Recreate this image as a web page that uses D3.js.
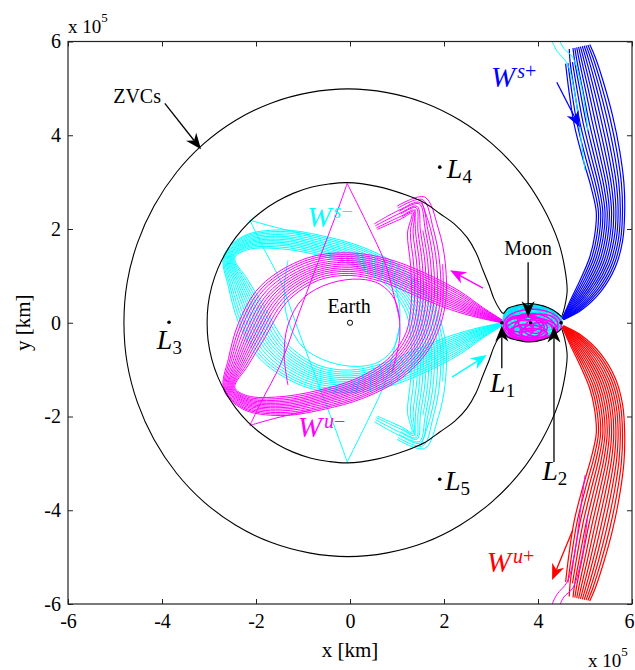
<!DOCTYPE html>
<html><head><meta charset="utf-8">
<script src="https://cdn.jsdelivr.net/npm/d3@7/dist/d3.min.js"></script>
<style>
html,body{margin:0;padding:0;background:#fff;}
svg{display:block;}
text{font-family:"Liberation Serif","Times New Roman",Times,serif;fill:#000;}
</style></head><body>
<svg id="chart" width="635" height="670"></svg>
<script>
// Earth–Moon restricted three-body problem, rotating frame centred on Earth.
// Zero-velocity curves and the invariant-manifold tubes of the L1/L2 Lyapunov orbits.
// All coordinates are in units of 10^5 km.

const xTicks = [-6, -4, -2, 0, 2, 4, 6];
const yTicks = [-6, -4, -2, 0, 2, 4, 6];

// Upper half of the outer zero-velocity curve, from the far side round to the L2 neck
const zvcOuterUpper = [
  [-4.81,0.00],[-4.74,0.87],[-4.52,1.71],[-4.17,2.49],[-3.69,3.21],[-3.11,3.82],
  [-2.43,4.32],[-1.67,4.69],[-0.87,4.91],[-0.04,4.99],[0.79,4.91],[1.59,4.69],
  [2.34,4.32],[3.02,3.82],[3.61,3.21],[4.09,2.49],[4.44,1.71],[4.57,1.16],
  [4.62,0.69],[4.57,0.35],[4.51,0.14]
];

// Upper half of the inner zero-velocity curve: Earth realm, L1 neck, lunar realm up to L2
const zvcInnerUpper = [
  [-3.04,0.00],[-3.02,0.37],[-2.94,0.78],[-2.81,1.16],[-2.64,1.50],[-2.43,1.82],
  [-2.17,2.12],[-1.87,2.38],[-1.55,2.59],[-1.21,2.76],[-0.83,2.89],[-0.45,2.96],
  [-0.06,2.99],[0.57,2.91],[1.21,2.72],[1.60,2.55],[1.91,2.33],[2.23,2.10],
  [2.49,1.82],[2.68,1.50],[2.83,1.12],[2.96,0.80],[3.06,0.52],[3.17,0.31],
  [3.26,0.20],[3.36,0.31],[3.55,0.37],[3.83,0.41],[4.11,0.36],[4.32,0.27],[4.51,0.12]
];

// W^{u-}: centre line of the L1 unstable tube in the Earth realm [x, y, half-width]
const wuMinusSpine = [
  [3.23,0.03,0.03],[2.77,0.22,0.12],[2.23,0.48,0.22],[1.49,0.82,0.26],[0.74,1.12,0.25],
  [0.00,1.25,0.24],[-0.74,1.16,0.26],[-1.38,0.82,0.30],[-1.74,0.47,0.33],[-2.09,-0.16,0.32],
  [-2.38,-0.84,0.22],[-2.57,-1.40,0.12],[-2.23,-1.70,0.15],[-1.49,-1.78,0.20],[-0.64,-1.65,0.21],
  [0.21,-1.40,0.22],[0.96,-0.97,0.25],[1.45,-0.37,0.30],[1.66,0.37,0.36],[1.66,1.23,0.37],
  [1.55,1.97,0.33],[1.45,2.51,0.22],[1.06,2.36,0.14],[0.53,2.08,0.10]
];
// Trajectories in that tube: [offset across tube (-1..1), first node, last node]
const wuMinusTraj = [
  [-1.00,0,23],[-0.82,0,22],[-0.64,0,23],[-0.48,0,21],[-0.32,0,22],[-0.16,0,23],
  [0.00,0,20],[0.16,0,22],[0.32,0,23],[0.50,0,21],[0.68,0,22],[0.84,0,19],[1.00,0,22]
];
// Single W^{u-} strands: one grazing the zero-velocity curve twice (legs between cusps),
// one on a tighter loop round the Earth
const wuMinusStrands = [
  [[1.06,0.05],[0.91,0.69],[0.74,1.29],[0.38,2.08],[-0.06,2.97]],
  [[-0.06,2.97],[-0.28,2.35],[-0.68,1.29],[-1.06,0.27],[-1.49,-0.91],[-1.87,-1.65],[-2.13,-2.19]],
  [[-2.13,-2.19],[-1.60,-2.04],[-0.85,-1.87]],
  [[0.89,-1.06],[1.06,-0.27],[0.96,0.48],[0.64,0.82],[0.21,0.93],[-0.43,0.84],
   [-1.00,0.52],[-1.32,-0.05],[-1.40,-0.69],[-1.32,-1.33]]
];

// W^{s+}: centre line of the L2 stable tube in the exterior realm [x, y, half-width]
const wsPlusSpine = [
  [4.53,0.08,0.02],[4.81,0.37,0.16],[5.13,0.80,0.26],[5.38,1.29,0.30],[5.51,1.80,0.31],
  [5.55,2.36,0.31],[5.49,2.93,0.36],[5.36,3.57,0.41],[5.19,4.32,0.43],[5.04,5.02,0.39],
  [4.91,5.60,0.33],[4.85,5.88,0.27]
];
const wsPlusTraj = [
  [-1.00,0,10],[-0.85,0,10],[-0.70,0,11],[-0.55,0,10],[-0.40,0,11],[-0.25,0,11],
  [-0.10,0,11],[0.05,0,11],[0.20,0,11],[0.35,0,11],[0.50,0,11],[0.65,0,11],
  [0.80,0,11],[0.95,0,11]
];
// W^{s-} strands that pass through the L2 neck into the exterior realm
const wsMinusExterior = [
  [[4.26,6.10],[4.40,5.80],[4.62,5.53],[4.79,4.85],[4.89,4.10],[5.00,3.25]],
  [[4.43,6.10],[4.55,5.85],[4.74,5.66],[4.94,4.96],[5.06,4.10]]
];

// Loops of the manifold strands inside the lunar realm [cx, cy, rx, ry, tilt°]
const lunarLoops = [
  [3.88,0.05,0.62,0.34,0],[3.82,0.12,0.50,0.26,8],[3.95,0.10,0.48,0.28,-10],
  [3.70,0.08,0.38,0.22,15],[4.00,0.18,0.35,0.18,-8],[3.85,0.02,0.30,0.18,25],
  [3.78,0.20,0.40,0.16,0],[3.92,0.04,0.20,0.12,-20],[3.60,0.05,0.30,0.15,5],
  [3.86,0.10,0.56,0.22,4],[3.98,0.06,0.40,0.24,12],[3.74,0.14,0.46,0.20,-6],
  [3.90,0.22,0.30,0.10,3],[3.66,0.18,0.24,0.14,-12]
];

// Libration points, Earth and Moon
const libPoints = [
  {id:"1", x:3.23, y:0}, {id:"2", x:4.49, y:0}, {id:"3", x:-3.85, y:0.01},
  {id:"4", x:1.91, y:3.32}, {id:"5", x:1.91, y:-3.34}
];
const moonPos = [3.84, 0];

// Annotation arrows [x1, y1, x2, y2, colour]
const arrows = [
  [-3.94,4.68,-3.17,3.70,"#000"],
  [3.79,1.29,3.79,0.12,"#000"],
  [3.23,-0.97,3.23,-0.06,"#000"],
  [4.34,-2.97,4.34,-0.08,"#000"],
  [4.40,5.13,4.89,4.17,"#0000ff"],
  [4.74,-4.42,4.30,-5.49,"#ff0000"],
  [2.83,0.74,2.13,1.12,"#ff00ff"],
  [2.17,-1.16,2.91,-0.69,"#00ffff"]
];

// Manifold names: superscript, colour, anchor position
const manifoldLabels = [
  {sup:"s+", color:"#0000ff", x:3.00, y:5.02},
  {sup:"s\u2212", color:"#00ffff", x:-0.91, y:2.04},
  {sup:"u\u2212", color:"#ff00ff", x:-1.11, y:-2.44},
  {sup:"u+", color:"#ff0000", x:2.91, y:-5.32}
];
// Libration point label positions (baseline start of the "L")
const libLabels = [
  {id:"1", x:2.98, y:-1.48}, {id:"2", x:4.09, y:-3.36}, {id:"3", x:-4.11, y:-0.56},
  {id:"4", x:2.06, y:3.08}, {id:"5", x:2.02, y:-3.57}
];
const plainLabels = [
  {t:"ZVCs", x:-4.53, y:4.68}, {t:"Moon", x:3.79, y:1.44}, {t:"Earth", x:-0.02, y:0.20}
];

const svg = d3.select("#chart");
const x = d3.scaleLinear().domain([-6, 6]).range([68, 632]);
const y = d3.scaleLinear().domain([-6, 6]).range([604, 41.5]);

const smooth = d3.line().curve(d3.curveCatmullRom.alpha(0.5));
const mirror = pts => pts.map(p => [p[0], -p[1]]);
const toPx = pts => pts.map(p => [x(p[0]), y(p[1])]);

// Expand a tube centre line into its individual trajectories (sign=-1 gives the mirror branch)
function tubeLines(spine, traj, sign) {
  const P = spine.map(d => [x(d[0]), y(sign * d[1]), x(d[2]) - x(0)]);
  return traj.map(([f, i0, i1]) => d3.range(i0, i1 + 1).map(i => {
    const a = P[Math.max(i - 1, 0)], b = P[Math.min(i + 1, P.length - 1)];
    const dx = b[0] - a[0], dy = b[1] - a[1], L = Math.hypot(dx, dy) || 1;
    const k = sign * f * P[i][2];
    return [P[i][0] - dy / L * k, P[i][1] + dx / L * k];
  }));
}

const defs = svg.append("defs");
defs.append("clipPath").attr("id", "plotClip")
  .append("rect").attr("x", x(-6)).attr("y", y(6))
  .attr("width", x(6) - x(-6)).attr("height", y(-6) - y(6));

const plot = svg.append("g").attr("clip-path", "url(#plotClip)");

// zero-velocity curves (symmetric about the x-axis)
const innerFull = mirror(zvcInnerUpper).reverse().concat(zvcInnerUpper.slice(1));
const outerFull = mirror(zvcOuterUpper).reverse().concat(zvcOuterUpper.slice(1));

// lunar realm: dense loops of the manifold strands, clipped to the realm boundary
const lunarBoundary = zvcInnerUpper.filter(p => p[0] >= 3.26);
const lunarPoly = lunarBoundary.concat(mirror(lunarBoundary).reverse());
const lunarPath = d3.line().curve(d3.curveCatmullRomClosed)(toPx(lunarPoly));
defs.append("clipPath").attr("id", "lunarClip").append("path").attr("d", lunarPath);
const lunar = plot.append("g").attr("clip-path", "url(#lunarClip)");

function drawLoops(sign, color, w) {
  lunar.append("g").selectAll("ellipse").data(lunarLoops).join("ellipse")
    .attr("cx", d => x(d[0])).attr("cy", d => y(sign * d[1]))
    .attr("rx", d => x(d[2]) - x(0)).attr("ry", d => y(0) - y(d[3]))
    .attr("transform", d => `rotate(${-sign * d[4]},${x(d[0])},${y(sign * d[1])})`)
    .attr("fill", "none").attr("stroke", color).attr("stroke-width", w);
}
lunar.append("path").attr("d", lunarPath).attr("fill", "#00ffff").attr("opacity", 0.8);
drawLoops(1, "#00e0ff", 1.2);
drawLoops(-1, "#ff00ff", 1.5);

// W^{s-} (mirror of W^{u-}) then W^{u-}
function drawTube(spine, traj, sign, color, w) {
  plot.append("g").selectAll("path").data(tubeLines(spine, traj, sign)).join("path")
    .attr("d", smooth).attr("fill", "none").attr("stroke", color).attr("stroke-width", w || 1);
}
function drawStrands(strands, sign, color) {
  plot.append("g").selectAll("path").data(strands.map(s => toPx(sign < 0 ? mirror(s) : s))).join("path")
    .attr("d", smooth).attr("fill", "none").attr("stroke", color).attr("stroke-width", 1);
}
drawTube(wuMinusSpine, wuMinusTraj, -1, "#00ffff");
drawStrands(wuMinusStrands, -1, "#00ffff");
drawTube(wuMinusSpine, wuMinusTraj, 1, "#ff00ff");
drawStrands(wuMinusStrands, 1, "#ff00ff");

plot.append("path").attr("d", smooth(toPx(innerFull)))
  .attr("fill", "none").attr("stroke", "#000").attr("stroke-width", 1.1);
plot.append("path").attr("d", smooth(toPx(outerFull)))
  .attr("fill", "none").attr("stroke", "#000").attr("stroke-width", 1.1);

// L2 tubes: W^{s+} above, W^{u+} (its mirror) below
drawTube(wsPlusSpine, wsPlusTraj, 1, "#0000ff", 1.2);
drawTube(wsPlusSpine, wsPlusTraj, -1, "#ff0000", 1.2);
drawStrands(wsMinusExterior, 1, "#00ffff");
drawStrands(wsMinusExterior, -1, "#ff00ff");

// points
plot.selectAll(".lp").data(libPoints).join("circle").attr("class", "lp")
  .attr("cx", d => x(d.x)).attr("cy", d => y(d.y)).attr("r", 1.8).attr("fill", "#000");
plot.append("circle").attr("cx", x(moonPos[0])).attr("cy", y(moonPos[1])).attr("r", 1.6).attr("fill", "#000");
plot.append("circle").attr("cx", x(0)).attr("cy", y(0)).attr("r", 2.6)
  .attr("fill", "#fff").attr("stroke", "#000").attr("stroke-width", 1);

// arrows with stealth heads
function arrow(d) {
  const [x1, y1, x2, y2, c] = d;
  const X1 = x(x1), Y1 = y(y1), X2 = x(x2), Y2 = y(y2);
  const L = Math.hypot(X2 - X1, Y2 - Y1), ux = (X2 - X1) / L, uy = (Y2 - Y1) / L;
  const len = 16, hw = 6.5;
  const bx = X2 - ux * len, by = Y2 - uy * len;
  const nx = X2 - ux * len * 0.7, ny = Y2 - uy * len * 0.7;
  const g = svg.append("g");
  g.append("line").attr("x1", X1).attr("y1", Y1).attr("x2", nx).attr("y2", ny)
    .attr("stroke", c).attr("stroke-width", 1.3);
  g.append("path").attr("d",
    `M${X2},${Y2}L${bx - uy * hw},${by + ux * hw}L${nx},${ny}L${bx + uy * hw},${by - ux * hw}Z`)
    .attr("fill", c);
}
arrows.forEach(arrow);

// axes: ticks inside on all four sides
const fmt = d => String(d);
const axB = svg.append("g").attr("transform", `translate(0,${y(-6)})`)
  .call(d3.axisBottom(x).tickValues(xTicks).tickSizeInner(-5).tickSizeOuter(0).tickPadding(10).tickFormat(fmt));
const axL = svg.append("g").attr("transform", `translate(${x(-6)},0)`)
  .call(d3.axisLeft(y).tickValues(yTicks).tickSizeInner(-5).tickSizeOuter(0).tickPadding(7).tickFormat(fmt));
const axT = svg.append("g").attr("transform", `translate(0,${y(6)})`)
  .call(d3.axisTop(x).tickValues(xTicks).tickSizeInner(-5).tickSizeOuter(0).tickFormat(""));
const axR = svg.append("g").attr("transform", `translate(${x(6)},0)`)
  .call(d3.axisRight(y).tickValues(yTicks).tickSizeInner(-5).tickSizeOuter(0).tickFormat(""));
[axB, axL, axT, axR].forEach(a => {
  a.select(".domain").remove();
  a.selectAll("line").attr("stroke", "#222");
  a.selectAll("text").attr("font-family", "Liberation Serif").attr("font-size", 20).attr("fill", "#000");
});
// the last x label sits at the window edge: keep it fully inside
axB.selectAll(".tick").filter(d => d === 6).select("text").attr("text-anchor", "end").attr("x", 634 - x(6));
svg.append("rect").attr("x", x(-6)).attr("y", y(6))
  .attr("width", x(6) - x(-6)).attr("height", y(-6) - y(6))
  .attr("fill", "none").attr("stroke", "#222").attr("stroke-width", 1.2);

// axis titles and exponent labels
svg.append("text").attr("x", x(0)).attr("y", 657).attr("text-anchor", "middle")
  .attr("font-size", 21).text("x [km]");
svg.append("text").attr("transform", `translate(30,${y(0)}) rotate(-90)`).attr("text-anchor", "middle")
  .attr("font-size", 21).text("y [km]");
function exponent(px, py) {
  const t = svg.append("text").attr("x", px).attr("y", py).attr("font-size", 19);
  t.append("tspan").text("x 10");
  t.append("tspan").attr("dy", -11).attr("font-size", 13).text("5");
}
exponent(68, 33);
exponent(588, 667);

// text annotations
plainLabels.forEach(d => {
  svg.append("text").attr("x", x(d.x)).attr("y", y(d.y)).attr("text-anchor", "middle")
    .attr("font-size", 20).text(d.t);
});
libLabels.forEach(d => {
  const t = svg.append("text").attr("x", x(d.x)).attr("y", y(d.y)).attr("font-size", 28);
  t.append("tspan").attr("font-style", "italic").text("L");
  t.append("tspan").attr("font-size", 19).attr("dy", 5).text(d.id);
});
manifoldLabels.forEach(d => {
  const t = svg.append("text").attr("x", x(d.x)).attr("y", y(d.y)).attr("font-size", 29)
    .style("fill", d.color);
  t.append("tspan").attr("font-style", "italic").text("W");
  t.append("tspan").attr("font-size", 20).attr("dy", -9).attr("dx", 2).attr("font-style", "italic").text(d.sup[0]);
  t.append("tspan").attr("font-size", 20).text(d.sup.slice(1));
});
</script>
</body></html>
